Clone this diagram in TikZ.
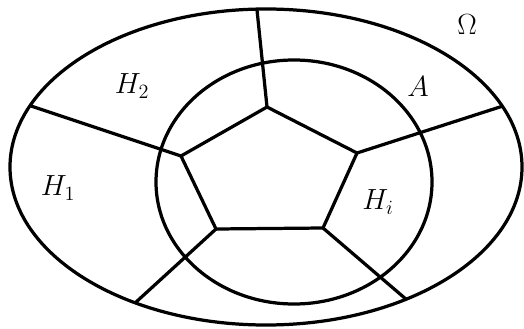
\documentclass[tikz,border=0pt]{standalone}
\usepackage{amsmath,amssymb}
\usepackage{tikz}
\usetikzlibrary{calc}
\tikzset{
  % mengder
  rand/.style={draw=black,line width=2.3pt},
  skille/.style={draw=black,line width=2.3pt,line join=round},
  merke/.style={font=\huge,inner sep=1pt},
}

\begin{document}
\begin{tikzpicture}[x=0.025cm,y=-0.025cm]
  \useasboundingbox (0,0) rectangle (524,328);
  \coordinate (om) at (266,167);
  \coordinate (ac) at (294,182);
  \draw[rand] (om) ellipse [x radius=256, y radius=158];
  \draw[rand] (ac) ellipse [x radius=138, y radius=122];
  % femkant
  \coordinate (p1) at (267,107);
  \coordinate (p2) at (357,153);
  \coordinate (p3) at (323,228);
  \coordinate (p4) at (216,229);
  \coordinate (p5) at (181,156);
  \draw[skille] (p1) -- (p2) -- (p3) -- (p4) -- (p5) -- cycle;
  % eiker ut til randen
  \coordinate (q1) at (257,10);
  \coordinate (q2) at (503,106);
  \coordinate (q3) at (407,300);
  \coordinate (q4) at (135,303);
  \coordinate (q5) at (31,106);
  \draw[skille] (p1) -- (q1);
  \draw[skille] (p2) -- (q2);
  \draw[skille] (p3) -- (q3);
  \draw[skille] (p4) -- (q4);
  \draw[skille] (p5) -- (q5);
  % navn
  \node[merke] (omega) at (467,25) {$\Omega$};
  \node[merke] (a) at (418,87) {$A$};
  \node[merke] (h2) at (132,86) {$H_2$};
  \node[merke] (h1) at (58,188) {$H_1$};
  \node[merke] (hi) at (378,202) {$H_i$};
\end{tikzpicture}
\end{document}
